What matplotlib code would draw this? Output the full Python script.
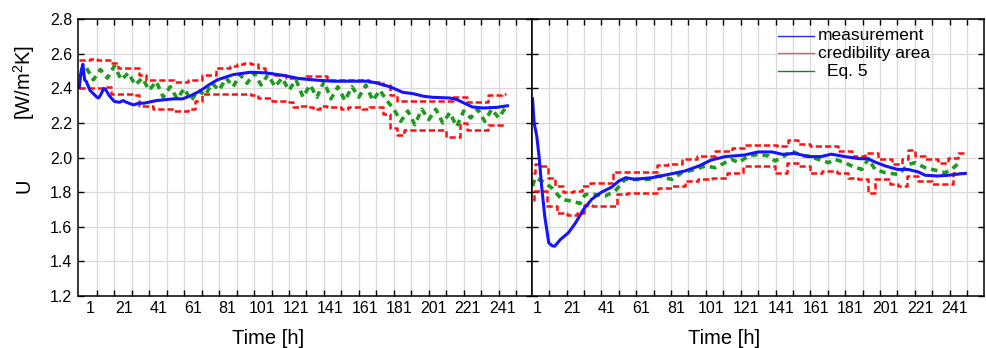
import matplotlib.pyplot as plt
import numpy as np

plt.rcParams['font.family'] = ['Liberation Sans', 'DejaVu Sans']
plt.rcParams['mathtext.fontset'] = 'custom'
plt.rcParams['mathtext.rm'] = 'Liberation Sans'
plt.rcParams['mathtext.default'] = 'regular'

# ---- left panel data ----
hours_left = np.arange(1, 246, 4)
eq5_left = [2.47, 2.52, 2.45, 2.51, 2.46, 2.53, 2.45, 2.49, 2.42, 2.46,
            2.39, 2.44, 2.35, 2.41, 2.34, 2.40, 2.33, 2.39, 2.36, 2.43,
            2.39, 2.46, 2.41, 2.48, 2.43, 2.49, 2.42, 2.48, 2.41, 2.46,
            2.39, 2.45, 2.35, 2.42, 2.35, 2.44, 2.34, 2.41, 2.33, 2.41,
            2.35, 2.42, 2.33, 2.39, 2.33, 2.28, 2.21, 2.27, 2.19, 2.28,
            2.22, 2.28, 2.20, 2.26, 2.18, 2.27, 2.23, 2.28, 2.21, 2.28,
            2.23, 2.29]
upper_left = [2.565, 2.565, 2.57, 2.565, 2.565, 2.55, 2.52, 2.52, 2.52,
              2.48, 2.45, 2.45, 2.45, 2.45, 2.44, 2.44, 2.45, 2.45, 2.48, 2.48,
              2.52, 2.52, 2.53, 2.54, 2.55, 2.54, 2.52, 2.49, 2.48, 2.48,
              2.46, 2.46, 2.46, 2.47, 2.47, 2.47, 2.45, 2.45, 2.45, 2.45,
              2.45, 2.45, 2.44, 2.44, 2.42, 2.36, 2.33, 2.33, 2.33, 2.33,
              2.33, 2.33, 2.33, 2.33, 2.35, 2.35, 2.32, 2.32, 2.32, 2.36,
              2.36, 2.37]
lower_left = [2.40, 2.40, 2.40, 2.40, 2.41, 2.37, 2.37, 2.37, 2.36,
              2.30, 2.30, 2.28, 2.28, 2.28, 2.27, 2.27, 2.28, 2.33, 2.37, 2.37,
              2.37, 2.37, 2.37, 2.37, 2.37, 2.36, 2.345, 2.345, 2.33, 2.325,
              2.32, 2.29, 2.30, 2.29, 2.28, 2.30, 2.29, 2.29, 2.28, 2.29,
              2.29, 2.28, 2.29, 2.29, 2.25, 2.17, 2.13, 2.16, 2.16, 2.16,
              2.16, 2.16, 2.16, 2.12, 2.12, 2.20, 2.16, 2.16, 2.16, 2.19,
              2.19, 2.19]
meas_left_h = [1, 2, 3, 4, 5, 7, 9, 11, 12, 13, 15, 16, 18, 21, 24, 26, 28, 32,
               35, 38, 45, 50, 55, 60, 64, 70, 75, 80, 89, 99, 108, 118, 127,
               137, 146, 156, 166, 171, 179, 186, 192, 198, 203, 213, 217, 223,
               226, 232, 240, 246]
meas_left = [2.41, 2.50, 2.54, 2.45, 2.44, 2.39, 2.37, 2.35, 2.345, 2.36, 2.40,
             2.395, 2.36, 2.325, 2.32, 2.33, 2.32, 2.305, 2.315, 2.315, 2.33,
             2.335, 2.34, 2.34, 2.355, 2.385, 2.42, 2.45, 2.48, 2.494, 2.49,
             2.475, 2.457, 2.448, 2.442, 2.442, 2.442, 2.432, 2.409, 2.378,
             2.37, 2.355, 2.349, 2.345, 2.336, 2.307, 2.293, 2.287, 2.291, 2.30]

# ---- right panel data ----
meas_right_h = [0.5, 1.4, 2.9, 4.2, 5.7, 7.5, 9.8, 11.8, 13.2, 16.5,
                21, 25, 29.7, 34.5, 40, 46, 50, 54, 59, 69,
                78.5, 88, 96, 103, 111, 122, 130, 138, 144, 151,
                159, 166, 172, 180, 188, 193, 197, 203, 210, 216,
                222, 226, 233, 239, 243, 249]
meas_right = [2.34, 2.2, 2.125, 2.01, 1.835, 1.66, 1.507, 1.49, 1.488, 1.527,
              1.565, 1.62, 1.70, 1.76, 1.80, 1.83, 1.865, 1.884, 1.875, 1.884,
              1.903, 1.923, 1.952, 1.986, 2.006, 2.015, 2.033, 2.033, 2.019, 2.025,
              2.006, 2.006, 2.02, 2.006, 1.994, 1.994, 1.975, 1.952, 1.932, 1.932,
              1.917, 1.898, 1.894, 1.898, 1.903, 1.909]
eq5_right_h = [0.5, 2.0, 5.8, 11.5, 17.3, 23, 27.8, 30.7, 36.4, 42.1, 47.9, 53.6,
               59.4, 67, 72.8, 80.4, 86.2, 93.8, 99.6, 105.3, 111, 114.9, 118.7,
               124.4, 130.2, 135.9, 139.7, 143.6, 149.3, 155, 158.9, 164.6, 170.4,
               174.2, 179.9, 183.7, 189.5, 193.3, 197.1, 202.9, 210.5, 216.3,
               220.1, 225.8, 233.5, 237.3, 241.1, 245, 246.9]
eq5_right = [1.836, 1.884, 1.865, 1.826, 1.758, 1.749, 1.735, 1.787, 1.787, 1.778,
             1.807, 1.874, 1.874, 1.874, 1.894, 1.874, 1.913, 1.932, 1.952, 1.942,
             1.971, 1.990, 1.971, 2.010, 2.019, 2.010, 1.981, 2.000, 2.039, 2.010,
             2.010, 1.990, 1.971, 1.990, 1.971, 1.952, 1.932, 1.994, 1.932, 1.913,
             1.903, 1.961, 1.971, 1.942, 1.923, 1.913, 1.932, 1.967, 1.961]
upper_right_h = [0.5, 2.9, 6.7, 11.5, 15.4, 21.1, 26.8, 30.7, 36.4, 44, 49.8,
                 59.4, 68.9, 74.7, 82.3, 90, 99.6, 111, 118.7, 126.3, 137.8,
                 143.6, 150.3, 155, 164.6, 172.3, 179.9, 187.6, 195.2, 202.9,
                 210.5, 214.4, 218.2, 222, 229.7, 237.3, 241.1, 248.8]
upper_right = [1.913, 1.961, 1.952, 1.884, 1.836, 1.801, 1.807, 1.836, 1.855,
               1.855, 1.917, 1.917, 1.917, 1.956, 1.961, 1.990, 2.010, 2.039,
               2.058, 2.072, 2.072, 2.068, 2.102, 2.077, 2.068, 2.068, 2.039,
               2.010, 2.029, 1.994, 1.961, 1.990, 2.044, 2.010, 1.990, 1.971,
               2.000, 2.029]
lower_right_h = [0.5, 2.0, 5.8, 11.5, 17.3, 23, 28.8, 30.7, 38.3, 47.9, 49.8,
                 59.4, 68.9, 76.6, 84.2, 91.9, 99.6, 107.2, 116.8, 126.3, 135.9,
                 143.6, 149.3, 157, 162.7, 170.4, 179.9, 183.7, 191.4, 195.2,
                 199.1, 202.9, 208.6, 212.4, 218.2, 225.8, 233.5, 239.2, 245,
                 248.8]
lower_right = [1.758, 1.807, 1.807, 1.720, 1.681, 1.671, 1.681, 1.729, 1.720,
               1.720, 1.787, 1.797, 1.797, 1.826, 1.836, 1.865, 1.874, 1.884,
               1.913, 1.952, 1.952, 1.913, 1.971, 1.952, 1.913, 1.923, 1.913,
               1.884, 1.874, 1.797, 1.874, 1.874, 1.845, 1.836, 1.894, 1.865,
               1.845, 1.845, 1.913, 1.909]

tick_labels = ['1', '21', '41', '61', '81', '101', '121', '141', '161', '181',
               '201', '221', '241']
y_ticks = [1.2, 1.4, 1.6, 1.8, 2.0, 2.2, 2.4, 2.6, 2.8]

blue = '#1414ff'
red = '#ff1010'
green = '#1e9a1e'

fig = plt.figure(figsize=(9.87, 3.48), dpi=100)
W, H = 987, 348
bot = 1 - 296 / H
hgt = (296 - 19.3) / H
ax1 = fig.add_axes([78.5 / W, bot, (531.7 - 78.5) / W, hgt])
ax2 = fig.add_axes([531.7 / W, bot, (983.7 - 531.7) / W, hgt])


def setup(ax, xlim, grid_x, label_x, show_y):
    ax.set_xlim(xlim)
    ax.set_ylim(1.2, 2.8)
    ax.set_xticks(grid_x)
    ax.set_xticklabels([])
    ax.set_xticks(label_x, minor=True)
    ax.set_xticklabels(tick_labels, minor=True, fontsize=11.5)
    ax.set_yticks(y_ticks)
    ax.set_yticklabels(['%.1f' % v for v in y_ticks], fontsize=11.5)
    ax.tick_params(which='major', direction='in', length=4, width=1,
                   top=True, right=True, pad=4.5)
    ax.tick_params(which='minor', length=0, pad=3.5)
    ax.tick_params(axis='y', labelleft=show_y)
    ax.grid(True, which='major', color='#d9d9d9', lw=0.9)
    ax.set_axisbelow(True)
    for s in ax.spines.values():
        s.set_linewidth(1.1)


setup(ax1, (0.5, 259.9), np.arange(11, 252, 10), np.linspace(7, 243, 13), True)
setup(ax2, (0, 259.5), np.arange(10, 251, 10), np.arange(1, 242, 20) + 2, False)

red_style = dict(color=red, lw=1.8, dashes=(2.5, 1.2), drawstyle='steps-mid')
green_style = dict(color=green, lw=2.6, dashes=(1.8, 1.4))

ax1.plot(hours_left, upper_left, **red_style)
ax1.plot(hours_left, lower_left, **red_style)
ax1.plot(hours_left, eq5_left, **green_style)
ax1.plot(meas_left_h, meas_left, color=blue, lw=2.2)

ax2.plot(upper_right_h, upper_right, **red_style)
ax2.plot(lower_right_h, lower_right, **red_style)
ax2.plot(eq5_right_h, eq5_right, **green_style)
ax2.plot(meas_right_h, meas_right, color=blue, lw=2.2)

# legend drawn by hand
leg = [('measurement', '#2a2aff', 0.94, 0.634),
       ('credibility area', '#f05a5a', 0.878, 0.634),
       ('Eq. 5', '#1e7f1e', 0.813, 0.654)]
for txt, col, yy, xt in leg:
    ax2.plot([0.545, 0.624], [yy, yy], color=col, lw=1, transform=ax2.transAxes)
    ax2.text(xt, yy, txt, transform=ax2.transAxes, fontsize=12.5,
             va='center', ha='left')

fig.text(24 / W, 1 - 186 / H, 'U', rotation=90, ha='center', va='center',
         fontsize=14.5)
fig.text(24 / W, 1 - 82 / H, '[W/m$^2$K]', rotation=90, ha='center',
         va='center', fontsize=14.5)
fig.text(268.5 / W, 1 - 338 / H, 'Time [h]', ha='center', va='center',
         fontsize=14.5)
fig.text(724.5 / W, 1 - 338 / H, 'Time [h]', ha='center', va='center',
         fontsize=14.5)

fig.savefig('out.png', dpi=100)
